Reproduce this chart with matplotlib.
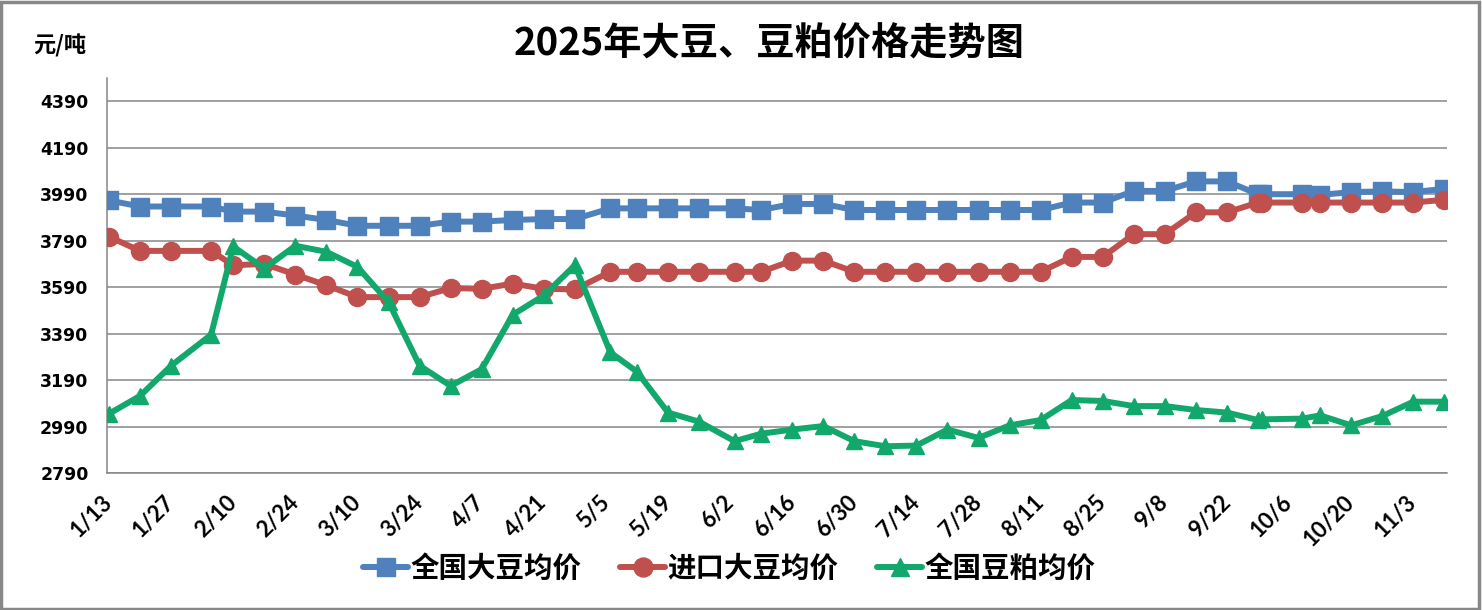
import matplotlib
matplotlib.use("Agg")
import matplotlib.pyplot as plt
import matplotlib.dates as mdates
from matplotlib.patches import Rectangle
import pandas as pd

plt.rcParams['font.family'] = ['Noto Sans CJK SC', 'DejaVu Sans']

# ---- data ----
dates = ['1/13', '1/20', '1/27', '2/5', '2/10', '2/17', '2/24', '3/3', '3/10', '3/17',
         '3/24', '3/31', '4/7', '4/14', '4/21', '4/28', '5/6', '5/12', '5/19', '5/26',
         '6/3', '6/9', '6/16', '6/23', '6/30', '7/7', '7/14', '7/21', '7/28', '8/4',
         '8/11', '8/18', '8/25', '9/1', '9/8', '9/15', '9/22', '9/29', '9/30', '10/9',
         '10/13', '10/20', '10/27', '11/3', '11/10']

national_soy = [3963, 3937, 3937, 3937, 3915, 3915, 3898, 3879, 3854, 3854,
                3854, 3872, 3872, 3879, 3883, 3883, 3929, 3929, 3929, 3929,
                3929, 3922, 3948, 3948, 3922, 3922, 3922, 3922, 3922, 3922,
                3922, 3954, 3954, 4004, 4004, 4045, 4045, 3990, 3990, 3990,
                3987, 3999, 4002, 3999, 4013]

import_soy = [3807, 3746, 3746, 3746, 3684, 3690, 3644, 3598, 3547, 3547,
              3547, 3586, 3583, 3605, 3583, 3580, 3656, 3656, 3656, 3656,
              3656, 3656, 3704, 3704, 3656, 3656, 3656, 3656, 3656, 3656,
              3656, 3720, 3720, 3818, 3818, 3912, 3912, 3954, 3954, 3954,
              3954, 3954, 3954, 3954, 3966]

soymeal = [3045, 3122, 3252, 3385, 3765, 3670, 3768, 3742, 3677, 3526,
           3252, 3165, 3237, 3471, 3554, 3684, 3309, 3226, 3050, 3011,
           2927, 2959, 2977, 2992, 2927, 2905, 2908, 2977, 2941, 2995,
           3018, 3104, 3100, 3078, 3078, 3061, 3050, 3018, 3021, 3024,
           3038, 2995, 3035, 3097, 3097]

tick_dates = ['1/13', '1/27', '2/10', '2/24', '3/10', '3/24', '4/7', '4/21', '5/5',
              '5/19', '6/2', '6/16', '6/30', '7/14', '7/28', '8/11', '8/25', '9/8',
              '9/22', '10/6', '10/20', '11/3']
y_ticks = [2790, 2990, 3190, 3390, 3590, 3790, 3990, 4190, 4390]

series_names = ['全国大豆均价', '进口大豆均价', '全国豆粕均价']
colors = ['#4F81BD', '#C0504D', '#12A86C']
markers = ['s', 'o', '^']
msizes = [13, 13, 12]


def to_dt(lst):
    return pd.to_datetime(['2025/' + d for d in lst], format='%Y/%m/%d')


x = to_dt(dates)
xt = to_dt(tick_dates)

fig = plt.figure(figsize=(14.82, 6.10), dpi=100)
ax = fig.add_axes([0.0719, 0.2246, 0.9764 - 0.0719, 0.8721 - 0.2246])

for vals, name, c, m, ms in zip([national_soy, import_soy, soymeal], series_names,
                                colors, markers, msizes):
    ax.plot(x, vals, color=c, lw=4.3, marker=m, markersize=ms, label=name,
            solid_joinstyle='round', solid_capstyle='round', zorder=3)

x0 = mdates.date2num(pd.Timestamp('2025-01-13'))
ax.set_xlim(x0 - 0.56, x0 + 301.6)
ax.set_ylim(2790, 4490)

ax.set_yticks(y_ticks)
ax.set_yticklabels([str(v) for v in y_ticks], fontsize=12.5, fontweight='bold',
                   family='DejaVu Sans')
ax.set_xticks(xt)
ax.set_xticklabels(tick_dates, rotation=45, ha='right', va='center',
                   rotation_mode='anchor', fontsize=16, fontweight='bold', family='Lato')
ax.tick_params(axis='y', length=0, pad=13)
ax.tick_params(axis='x', length=0, pad=19)

ax.grid(axis='y', color='#868686', lw=1.1)
ax.set_axisbelow(True)
for s in ['top', 'right']:
    ax.spines[s].set_visible(False)
for s in ['left', 'bottom']:
    ax.spines[s].set_color('#868686')
    ax.spines[s].set_linewidth(1.1)

fig.text(0.519, 0.928, '2025年大豆、豆粕价格走势图', ha='center', va='center',
         fontsize=27.5, fontweight='bold')
fig.text(33 / 1482, 1 - 46 / 610, '元/吨', ha='left', va='center',
         fontsize=16, fontweight='bold')

leg = fig.legend(loc='center', bbox_to_anchor=(0.492, 0.067), ncol=3, frameon=False,
                 prop={'size': 20.5, 'weight': 'bold'}, handlelength=1.6,
                 handletextpad=0.07, columnspacing=1.35, markerscale=1.05)

fig.patches.append(Rectangle((0.001, 0.002), 0.997, 0.995, transform=fig.transFigure,
                             fill=False, edgecolor='#888888', lw=2.5))

fig.savefig('out.png', dpi=100)
